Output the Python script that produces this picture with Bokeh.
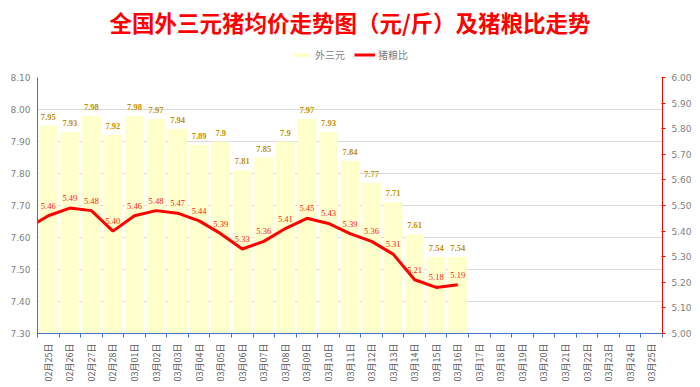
import math
from bokeh.plotting import figure
from bokeh.layouts import column
from bokeh.models import (Range1d, LinearAxis, FixedTicker, ColumnDataSource, LabelSet, Label,
                          Legend, LegendItem, NumeralTickFormatter)
from bokeh.embed import file_html
from bokeh.resources import INLINE

# ---- data ----
dates = ["02月25日", "02月26日", "02月27日", "02月28日",
         "03月01日", "03月02日", "03月03日", "03月04日", "03月05日", "03月06日",
         "03月07日", "03月08日", "03月09日", "03月10日", "03月11日", "03月12日",
         "03月13日", "03月14日", "03月15日", "03月16日", "03月17日", "03月18日",
         "03月19日", "03月20日", "03月21日", "03月22日", "03月23日", "03月24日",
         "03月25日"]
prices = [7.95, 7.93, 7.98, 7.92, 7.98, 7.97, 7.94, 7.89, 7.9, 7.81,
          7.85, 7.9, 7.97, 7.93, 7.84, 7.77, 7.71, 7.61, 7.54, 7.54]
ratios = [5.46, 5.49, 5.48, 5.40, 5.46, 5.48, 5.47, 5.44, 5.39, 5.33,
          5.36, 5.41, 5.45, 5.43, 5.39, 5.36, 5.31, 5.21, 5.18, 5.19]
prev_ratio = 5.41  # 02月24日 (line enters from the left edge)
left_ticks = [7.3, 7.4, 7.5, 7.6, 7.7, 7.8, 7.9, 8.0, 8.1]
right_ticks = [5.0, 5.1, 5.2, 5.3, 5.4, 5.5, 5.6, 5.7, 5.8, 5.9, 6.0]
title_text = "全国外三元猪均价走势图（元/斤）及猪粮比走势"
series_names = ["外三元", "猪粮比"]

n = len(dates)
xs = list(range(len(prices)))
CJK = "Noto Sans CJK SC"
NUM = "DejaVu Sans"
GRAY = "#7f7f7f"
BAR_FILL = "#FFFFCC"
RED = "#ff0000"

# ---- header (title + legend) ----
h = figure(width=700, height=70, output_backend="svg", toolbar_location=None,
           x_range=Range1d(0, 700), y_range=Range1d(0, 70),
           min_border_left=0, min_border_right=0, min_border_top=0, min_border_bottom=0)
h.axis.visible = False
h.grid.grid_line_color = None
h.outline_line_color = None
h.add_layout(Label(x=350, y=49, text=title_text, text_align="center", text_baseline="middle",
                   text_color=RED, text_font=CJK, text_font_size="22.5px",
                   text_font_style="bold"))
# legend proxies kept outside the visible range
proxy = ColumnDataSource(dict(x=[-1000, -999], y=[-1000, -999]))
hb = h.vbar(x="x", top="y", width=1, source=proxy, fill_color=BAR_FILL, line_color=None)
hl = h.line(x="x", y="y", source=proxy, line_color=RED, line_width=3)
legend = Legend(items=[LegendItem(label=series_names[0], renderers=[hb]),
                       LegendItem(label=series_names[1], renderers=[hl])],
                orientation="horizontal", location=(254, 8),
                label_text_font=CJK, label_text_font_size="10px",
                label_text_color=GRAY, glyph_width=21, glyph_height=5,
                label_standoff=3, spacing=9, padding=4, margin=0,
                border_line_color=None, background_fill_alpha=0)
h.add_layout(legend, "center")

# ---- main chart ----
p = figure(width=700, height=317, output_backend="svg", toolbar_location=None,
           x_range=Range1d(-0.5, n - 0.5), y_range=Range1d(7.3, 8.1),
           min_border_left=37, min_border_right=38, min_border_bottom=54, min_border_top=7)
p.extra_y_ranges = {"ratio": Range1d(5.0, 6.0)}
p.outline_line_color = None
p.background_fill_color = "white"

bsrc = ColumnDataSource(dict(x=xs, top=prices, txt=[str(v) for v in prices]))
p.vbar(x="x", top="top", bottom=7.3, width=0.88, source=bsrc,
       fill_color=BAR_FILL, line_color=None)

lsrc = ColumnDataSource(dict(x=xs, y=ratios, txt=[f"{v:.2f}" for v in ratios]))
p.line(x=[-1] + xs, y=[prev_ratio] + ratios, y_range_name="ratio",
       line_color=RED, line_width=3)

p.add_layout(LabelSet(x="x", y="top", text="txt", source=bsrc, y_offset=6,
                      text_align="center", text_baseline="bottom",
                      text_color="#BF9000", text_font=NUM, text_font_size="8.5px",
                      text_font_style="bold"))
p.add_layout(LabelSet(x="x", y="y", text="txt", source=lsrc, y_range_name="ratio",
                      y_offset=7, text_align="center", text_baseline="bottom",
                      text_color="#ff2020", text_font=NUM, text_font_size="8.5px"))

# axes
xa = p.xaxis[0]
xa.ticker = FixedTicker(ticks=list(range(n)), minor_ticks=[i - 0.5 for i in range(n + 1)])
xa.major_label_overrides = {i: d for i, d in enumerate(dates)}
xa.major_label_orientation = math.pi / 2
xa.major_tick_out = 0
xa.major_tick_in = 0
xa.minor_tick_out = 4
xa.minor_tick_in = 0
xa.minor_tick_line_color = "#4472C4"
xa.axis_line_color = "#4472C4"
xa.major_label_text_font = CJK
xa.major_label_text_font_size = "9px"
xa.major_label_text_color = "#595959"
xa.major_label_standoff = 6

ya = p.yaxis[0]
ya.ticker = FixedTicker(ticks=left_ticks)
ya.formatter = NumeralTickFormatter(format="0.00")
ya.axis_line_color = "#4472C4"
ya.major_tick_out = 0
ya.major_tick_in = 0
ya.minor_tick_line_color = None
ya.major_label_text_font = NUM
ya.major_label_text_font_size = "9px"
ya.major_label_text_color = GRAY
ya.major_label_standoff = 7

ra = LinearAxis(y_range_name="ratio", ticker=FixedTicker(ticks=right_ticks),
                formatter=NumeralTickFormatter(format="0.00"))
ra.axis_line_color = RED
ra.major_tick_line_color = RED
ra.major_tick_out = 3
ra.major_tick_in = 1
ra.minor_tick_line_color = None
ra.major_label_text_font = NUM
ra.major_label_text_font_size = "9px"
ra.major_label_text_color = GRAY
ra.major_label_standoff = 6
p.add_layout(ra, "right")

p.xgrid.grid_line_color = None
p.ygrid.ticker = FixedTicker(ticks=left_ticks)
p.ygrid.grid_line_color = "#d9d9d9"

layout = column(h, p, spacing=0)
open("out.html", "w").write(file_html(layout, INLINE))
